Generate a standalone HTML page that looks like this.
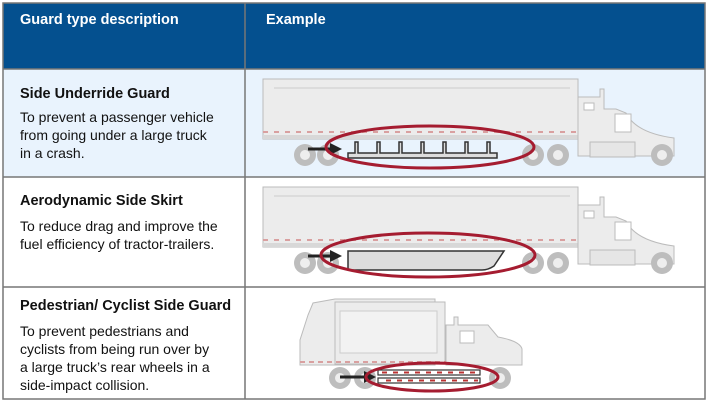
<!DOCTYPE html>
<html><head><style>
body{margin:0;width:709px;height:406px;background:#fff;font-family:"Liberation Sans",sans-serif;position:relative;overflow:hidden}
.t{position:absolute;color:#111}
</style></head><body>
<svg width="709" height="406" style="position:absolute;left:0;top:0">
<defs>
<g id="semi">
<rect x="263" y="0" width="315" height="60" fill="#ececec" stroke="#bbb"/>
<line x1="274" y1="9" x2="570" y2="9" stroke="#ccc"/>
<line x1="263" y1="53" x2="578" y2="53" stroke="#d9a0a0" stroke-width="2" stroke-dasharray="5,6"/>
<rect x="263" y="56" width="315" height="4" fill="#d8d8d8"/>
<path d="M578 55 V18 H600 V10 h4 V30 h12 l10 4 q10 20 48 25 v18 h-96z" fill="#ececec" stroke="#bbb"/>
<rect x="584" y="24" width="10" height="7" fill="#fff" stroke="#bbb"/>
<path d="M615 35 h16 v18 h-16z" fill="#fff" stroke="#bbb"/>
<g fill="#bdbdbd"><circle cx="305" cy="76" r="11"/><circle cx="328" cy="76" r="11"/><circle cx="533" cy="76" r="11"/><circle cx="558" cy="76" r="11"/><circle cx="662" cy="76" r="11"/></g>
<g fill="#eee"><circle cx="305" cy="76" r="5"/><circle cx="328" cy="76" r="5"/><circle cx="533" cy="76" r="5"/><circle cx="558" cy="76" r="5"/><circle cx="662" cy="76" r="5"/></g>
<rect x="590" y="63" width="45" height="15" fill="#e6e6e6" stroke="#bbb"/>
</g>
</defs>
<rect x="3" y="3" width="702" height="66" fill="#04508f"/>
<rect x="3" y="69" width="702" height="108" fill="#e9f3fd"/>
<g stroke="#777" stroke-width="1.5" fill="none">
<rect x="3" y="3" width="702" height="396"/>
<line x1="245" y1="3" x2="245" y2="399"/>
<line x1="3" y1="69" x2="705" y2="69"/>
<line x1="3" y1="177" x2="705" y2="177"/>
<line x1="3" y1="287" x2="705" y2="287"/>
</g>
<use href="#semi" transform="translate(0,79)"/>
<use href="#semi" transform="translate(0,187)"/>
<!-- row1 guard -->
<path d="M348 158 v-5 h7 v-11 h3 v11 h19 v-11 h3 v11 h19 v-11 h3 v11 h19 v-11 h3 v11 h19 v-11 h3 v11 h19 v-11 h3 v11 h19 v-11 h3 v11 h7 v5z" fill="#ddd" stroke="#333" stroke-width="1.5"/>
<line x1="308" y1="149" x2="332" y2="149" stroke="#222" stroke-width="3"/><path d="M330 143 l12 6 l-12 6z" fill="#222"/>
<ellipse cx="430" cy="147" rx="104" ry="21" fill="none" stroke="#a51c30" stroke-width="3"/>
<!-- row2 skirt -->
<path d="M348 251 h156 l-10 15 q-6 4 -12 4 h-134z" fill="#ddd" stroke="#333" stroke-width="1.5"/>
<line x1="308" y1="256" x2="332" y2="256" stroke="#222" stroke-width="3"/><path d="M330 250 l12 6 l-12 6z" fill="#222"/>
<ellipse cx="428" cy="255" rx="107" ry="22" fill="none" stroke="#a51c30" stroke-width="3"/>
<!-- row3 garbage truck -->
<path d="M300 365 V340 l8 -25 l5 -12 l22 -4 h100 v66z" fill="#ececec" stroke="#bbb"/>
<rect x="335" y="302" width="110" height="62" fill="#ececec" stroke="#bbb"/>
<rect x="340" y="311" width="97" height="42" fill="#f2f2f2" stroke="#ccc"/>
<path d="M446 365 V325 h8 v-8 h4 v8 h30 l10 12 q22 4 24 12 v16z" fill="#ececec" stroke="#bbb"/>
<rect x="460" y="331" width="14" height="12" fill="#fff" stroke="#bbb"/>
<line x1="300" y1="362" x2="446" y2="362" stroke="#d9a0a0" stroke-width="2" stroke-dasharray="5,4"/>
<g fill="#bdbdbd"><circle cx="340" cy="378" r="11"/><circle cx="365" cy="378" r="11"/><circle cx="500" cy="378" r="11"/></g>
<g fill="#eee"><circle cx="340" cy="378" r="5"/><circle cx="365" cy="378" r="5"/><circle cx="500" cy="378" r="5"/></g>
<g fill="#fff" stroke="#333" stroke-width="1.2"><rect x="378" y="370" width="102" height="5"/><rect x="378" y="378" width="102" height="5"/></g>
<g stroke="#b33" stroke-width="2" stroke-dasharray="5,6"><line x1="382" y1="372.5" x2="478" y2="372.5"/><line x1="386" y1="380.5" x2="478" y2="380.5"/></g>
<line x1="340" y1="377" x2="366" y2="377" stroke="#222" stroke-width="3"/><path d="M364 371 l12 6 l-12 6z" fill="#222"/>
<ellipse cx="432" cy="377" rx="66" ry="14" fill="none" stroke="#a51c30" stroke-width="3"/>
</svg>
<div class="t" style="left:20px;top:12px;color:#fff;font-weight:bold;font-size:14.5px">Guard type description</div>
<div class="t" style="left:266px;top:12px;color:#fff;font-weight:bold;font-size:14.5px">Example</div>
<div class="t" style="left:20px;top:85px;font-size:14.5px;line-height:18px"><b>Side Underride Guard</b><div style="margin-top:5px;font-size:14px">To prevent a passenger vehicle<br>from going under a large truck<br>in a crash.</div></div>
<div class="t" style="left:20px;top:192px;font-size:14.5px;line-height:18px"><b>Aerodynamic Side Skirt</b><div style="margin-top:7px;font-size:14px">To reduce drag and improve the<br>fuel efficiency of tractor-trailers.</div></div>
<div class="t" style="left:20px;top:297px;font-size:14.5px;line-height:18px"><b>Pedestrian/ Cyclist Side Guard</b><div style="margin-top:7px;font-size:14px">To prevent pedestrians and<br>cyclists from being run over by<br>a large truck’s rear wheels in a<br>side-impact collision.</div></div>
</body></html>
